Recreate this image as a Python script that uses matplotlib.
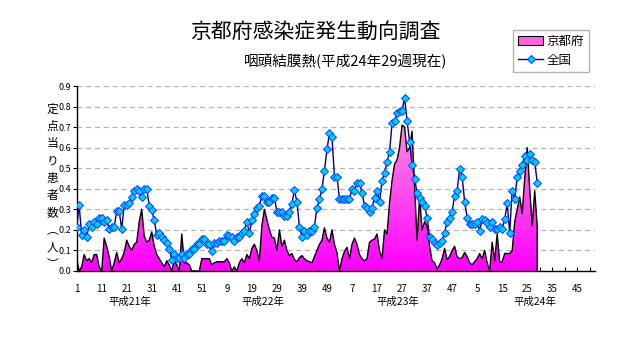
import numpy as np
import matplotlib
matplotlib.use('Agg')
import matplotlib.pyplot as plt
from matplotlib.patches import Patch
from matplotlib.lines import Line2D
from matplotlib.colors import LinearSegmentedColormap

plt.rcParams['font.family'] = ['Noto Sans CJK JP', 'DejaVu Sans']

title = '京都府感染症発生動向調査'
subtitle = '咽頭結膜熱(平成24年29週現在)'
series_names = ['京都府', '全国']
year_labels = ['平成21年', '平成22年', '平成23年', '平成24年']
weeks_per_year = [52, 52, 52, 52]
ylabel_chars = ['定', '点', '当', 'り', '患', '者', '数', '︵', '人', '︶']
y_ticks = [0.0, 0.1, 0.2, 0.3, 0.4, 0.5, 0.6, 0.7, 0.8, 0.9]

kyoto = [
    0.06, 0.0, 0.02, 0.08, 0.05, 0.06, 0.04, 0.08, 0.08, 0.02,
    0.0, 0.16, 0.12, 0.07, 0.0, 0.04, 0.09, 0.04, 0.06, 0.09,
    0.15, 0.12, 0.10, 0.13, 0.14, 0.24, 0.30, 0.17, 0.14, 0.15,
    0.19, 0.12, 0.08, 0.06, 0.04, 0.02, 0.05, 0.03, 0.0, 0.05,
    0.03, 0.0, 0.18, 0.04, 0.04, 0.03, 0.0, 0.0, 0.0, 0.0,
    0.06, 0.06, 0.06, 0.06, 0.03, 0.04, 0.045, 0.045, 0.045, 0.045,
    0.06, 0.04, 0.0, 0.02, 0.0, 0.04, 0.06, 0.04, 0.08, 0.06,
    0.11, 0.13, 0.10, 0.05,
    0.22, 0.30, 0.25, 0.20, 0.165, 0.16, 0.10, 0.20, 0.12, 0.15,
    0.10, 0.075, 0.085, 0.055, 0.045, 0.065, 0.075, 0.06, 0.05, 0.045,
    0.04, 0.07, 0.10, 0.13, 0.15, 0.21, 0.16, 0.14, 0.20, 0.13,
    0.09, 0.0, 0.06, 0.095, 0.115, 0.06, 0.13, 0.16, 0.13, 0.08,
    0.06, 0.05, 0.06, 0.14, 0.15, 0.155, 0.18, 0.10, 0.06, 0.20,
    0.18, 0.33, 0.44, 0.52, 0.54, 0.60, 0.71, 0.70, 0.58, 0.60,
    0.68, 0.42, 0.15, 0.36, 0.20, 0.24,
    0.22, 0.12, 0.05, 0.04, 0.01, 0.03, 0.06, 0.11, 0.055, 0.07,
    0.10, 0.12, 0.07, 0.06, 0.065, 0.09, 0.07, 0.04, 0.03, 0.045,
    0.06, 0.085, 0.06, 0.10, 0.04, 0.0, 0.14, 0.05, 0.18, 0.045,
    0.045, 0.085, 0.085, 0.085, 0.10, 0.24, 0.30, 0.36, 0.28, 0.45,
    0.60, 0.40, 0.22, 0.39, 0.22,
]

national = [
    0.215, 0.32, 0.175, 0.20, 0.165, 0.23, 0.215, 0.24, 0.23, 0.26,
    0.26, 0.24, 0.25, 0.205, 0.215, 0.215, 0.29, 0.29, 0.205, 0.32,
    0.32, 0.33, 0.36, 0.39, 0.40, 0.39, 0.36,
    0.40, 0.40, 0.318, 0.297, 0.248, 0.175, 0.187, 0.167, 0.15, 0.134,
    0.107, 0.054, 0.081, 0.062, 0.062, 0.081, 0.062, 0.081, 0.081, 0.107,
    0.107, 0.13, 0.13, 0.158, 0.158, 0.13, 0.13, 0.097, 0.138, 0.138,
    0.146, 0.146, 0.146, 0.175, 0.17, 0.167, 0.146, 0.167, 0.167, 0.183,
    0.196, 0.24, 0.183, 0.248, 0.277, 0.305, 0.318,
    0.365, 0.365, 0.337, 0.337, 0.357, 0.357, 0.289, 0.289, 0.289, 0.268,
    0.268, 0.289, 0.328, 0.392, 0.337, 0.216, 0.167, 0.194, 0.175, 0.196,
    0.196, 0.216, 0.308, 0.349, 0.40, 0.488, 0.592, 0.67, 0.65, 0.459,
    0.459, 0.349, 0.349, 0.349, 0.349, 0.349, 0.40, 0.389, 0.43, 0.43,
    0.381, 0.318, 0.308, 0.289, 0.308, 0.357, 0.389, 0.337, 0.439, 0.478,
    0.532, 0.58, 0.718, 0.731, 0.767, 0.78, 0.78, 0.843, 0.731, 0.629,
    0.517, 0.449, 0.381, 0.357, 0.337, 0.318,
    0.26, 0.167, 0.158, 0.138, 0.127, 0.138, 0.148, 0.187, 0.24, 0.26,
    0.289, 0.367, 0.391, 0.498, 0.459, 0.337, 0.26, 0.229, 0.229, 0.229,
    0.24, 0.196, 0.251, 0.248, 0.232, 0.216, 0.24, 0.205, 0.205, 0.216,
    0.205, 0.251, 0.329, 0.187, 0.391, 0.349, 0.459, 0.488, 0.518, 0.558,
    0.542, 0.571, 0.542, 0.532, 0.43,
]

# category axis
week_nums = []
for n in weeks_per_year:
    week_nums += list(range(1, n + 1))
n_cat = len(week_nums)
xk = np.arange(1, len(kyoto) + 1)
xn = np.arange(1, len(national) + 1)

W, H = 632, 348
fig = plt.figure(figsize=(W / 100, H / 100), dpi=100)
ax_l, ax_r, ax_b, ax_t = 76.65, 594.8, 271, 86
ax = fig.add_axes([ax_l / W, 1 - ax_b / H, (ax_r - ax_l) / W, (ax_b - ax_t) / H])

# Kyoto gradient area
poly = ax.fill_between(xk, kyoto, 0, facecolor='none', edgecolor='none', zorder=2)
cmap = LinearSegmentedColormap.from_list('pk', ['#FF00FF', '#FF5AEA', '#FFB0D8'])
grad = np.linspace(0, 1, 256).reshape(-1, 1)
im = ax.imshow(grad, extent=[1, n_cat, 0, 0.9], origin='lower', aspect='auto',
               cmap=cmap, zorder=2, interpolation='bilinear')
im.set_clip_path(poly.get_paths()[0], transform=ax.transData)
ax.plot(np.append(xk, xk[-1]), np.append(kyoto, 0), color='black', lw=1.0, zorder=3)

# National line
ax.plot(xn, national, color='#000080', lw=1.0, marker='D', ms=4.2,
        mfc='#00CCFF', mec='#0044FF', mew=0.7, zorder=4)

ax.set_xlim(1, n_cat)
ax.set_ylim(0, 0.9)

# grid
ax.set_yticks(y_ticks)
ax.set_yticklabels([f'{v:.1f}' for v in y_ticks], fontsize=6.5)
ax.yaxis.grid(True, linestyle=(0, (4, 3)), color='#B4B4B4', lw=0.9, zorder=0)
ax.set_axisbelow(True)
ax.tick_params(axis='y', direction='out', length=3, width=0.8, pad=1.2, colors='black')

major = [i for i in range(1, n_cat + 1) if (i - 1) % 10 == 0]
minor = [i for i in range(1, n_cat + 1) if (i - 1) % 5 == 0 and (i - 1) % 10 != 0]
ax.set_xticks(major)
ax.set_xticklabels([str(week_nums[i - 1]) for i in major], fontsize=7)
ax.set_xticks(minor, minor=True)
ax.tick_params(axis='x', which='both', direction='in', length=3, width=0.8, pad=9)

for s in ['top', 'right']:
    ax.spines[s].set_visible(False)
for s in ['left', 'bottom']:
    ax.spines[s].set_color('black')
    ax.spines[s].set_linewidth(1.0)

# year labels under axis
year_x_px = [130, 263, 398, 535]
for lab, px in zip(year_labels, year_x_px):
    fig.text(px / W, 1 - 301.5 / H, lab, ha='center', va='center', fontsize=7.5)

# y label (vertical stacked)
for k, ch in enumerate(ylabel_chars):
    fig.text(52.5 / W, 1 - (109 + k * 17.3) / H, ch, ha='center', va='center', fontsize=8.5)

# titles
fig.text(315 / W, 1 - 32 / H, title, ha='center', va='center', fontsize=15)
fig.text(346 / W, 1 - 62 / H, subtitle, ha='center', va='center', fontsize=10.5)

# legend
handles = [Patch(facecolor='#FF66DD', edgecolor='black', lw=0.8),
           Line2D([0], [0], color='#000080', lw=1.0, marker='D', ms=4.2,
                  mfc='#00CCFF', mec='#0044FF', mew=0.7)]
leg = fig.legend(handles, series_names, loc='upper left',
                 bbox_to_anchor=(513 / W, 1 - 30 / H), bbox_transform=fig.transFigure,
                 fontsize=9, frameon=True, fancybox=False, handlelength=2.0,
                 handleheight=0.7, handletextpad=0.3, labelspacing=0.45,
                 borderpad=0.4, borderaxespad=0)
leg.get_frame().set_edgecolor('#A0A0A0')
leg.get_frame().set_linewidth(1.0)

fig.savefig('out.png', dpi=100)
